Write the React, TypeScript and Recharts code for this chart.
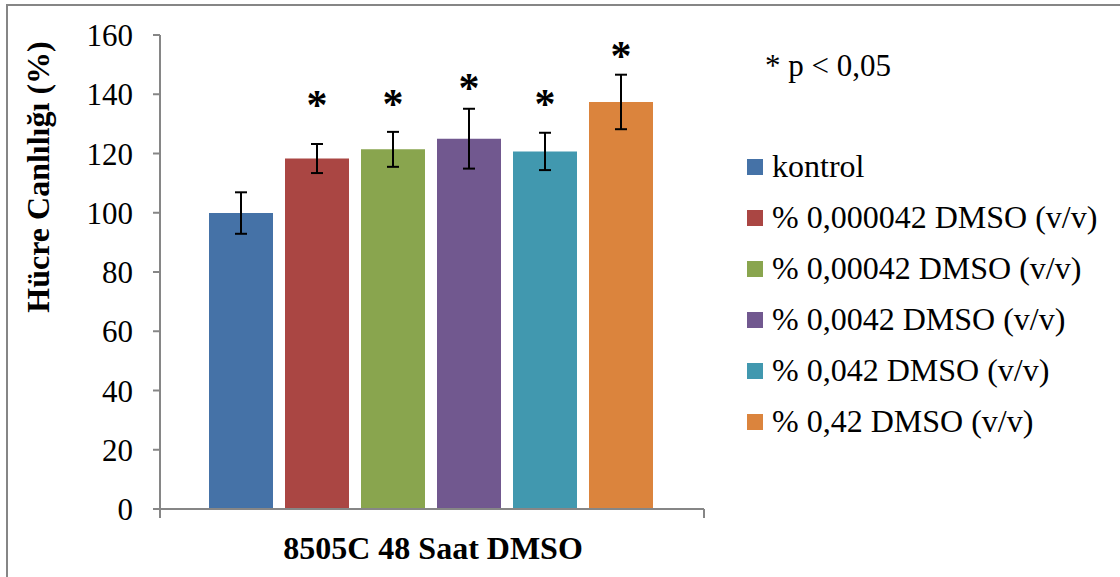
import React from 'react';
import { BarChart, Bar, XAxis, YAxis, ErrorBar } from 'recharts';

// one group, six treatments
const category = '8505C 48 Saat DMSO';
const seriesNames = [
  'kontrol',
  '% 0,000042 DMSO (v/v)',
  '% 0,00042 DMSO (v/v)',
  '% 0,0042 DMSO (v/v)',
  '% 0,042 DMSO (v/v)',
  '% 0,42 DMSO (v/v)',
];
const viability = [99.9, 118.3, 121.4, 125.0, 120.7, 137.4];
const stdErr = [7.0, 4.9, 5.9, 10.1, 6.3, 9.2];
// height (in %) where the significance mark sits; null = not significant
const starLevel: (number | null)[] = [null, 137.6, 138.2, 143.3, 137.9, 154.4];
const colors = ['#4572A7', '#AA4643', '#89A54E', '#71588F', '#4198AF', '#DB843D'];
const yTicks = [0, 20, 40, 60, 80, 100, 120, 140, 160];

const FONT = '"Liberation Serif", "Times New Roman", serif';
const AXIS = '#868686';

const row: Record<string, string | number> = { name: category };
viability.forEach((v, i) => {
  row[`v${i}`] = v;
  row[`e${i}`] = stdErr[i];
});
const data = [row];

const renderStar = (i: number) => (props: any) => {
  const level = starLevel[i];
  const { x, y, width, height, value } = props;
  if (level == null || !value) return null;
  // bar runs linearly from 0 to value, so scale the level along it
  const cy = y + height - (height * level) / value;
  return (
    <text x={x + width / 2} y={cy + 18} textAnchor="middle" fontFamily={FONT} fontWeight="bold" fontSize={42} fill="#000">
      *
    </text>
  );
};

export default function App() {
  return (
    <div style={{ position: 'absolute', left: 0, top: 0, width: 1120, height: 577, overflow: 'hidden', background: '#fff', fontFamily: FONT }}>
      <div style={{ position: 'absolute', left: 6, top: 4, width: 1200, height: 700, borderTop: `2px solid ${AXIS}`, borderLeft: `2px solid ${AXIS}` }} />
      <BarChart
        width={1120}
        height={577}
        data={data}
        margin={{ top: 35, right: 416, bottom: 58, left: 0 }}
        barCategoryGap={49}
        barGap={12}
      >
        <XAxis dataKey="name" tick={false} tickLine={false} height={10} axisLine={{ stroke: AXIS, strokeWidth: 2 }} />
        <YAxis
          width={160}
          domain={[0, 160]}
          ticks={yTicks}
          interval={0}
          tickSize={7}
          tickMargin={20}
          axisLine={{ stroke: AXIS, strokeWidth: 2 }}
          tickLine={{ stroke: AXIS, strokeWidth: 2 }}
          tick={{ fill: '#000', fontSize: 31, fontFamily: FONT }}
        />
        {seriesNames.map((n, i) => (
          <Bar key={n} dataKey={`v${i}`} name={n} fill={colors[i]} isAnimationActive={false} label={renderStar(i)}>
            <ErrorBar dataKey={`e${i}`} width={6} stroke="#000" strokeWidth={2} direction="y" />
          </Bar>
        ))}
      </BarChart>
      {/* end ticks of the category axis */}
      <div style={{ position: 'absolute', left: 159, top: 509, width: 2, height: 9, background: AXIS }} />
      <div style={{ position: 'absolute', left: 703, top: 509, width: 2, height: 9, background: AXIS }} />
      <svg width={1120} height={577} style={{ position: 'absolute', left: 0, top: 0, pointerEvents: 'none' }}>
        <text x={433} y={559} textAnchor="middle" fontFamily={FONT} fontWeight="bold" fontSize={32} fill="#000">
          {category}
        </text>
        <text transform="translate(49,177) rotate(-90)" textAnchor="middle" fontFamily={FONT} fontWeight="bold" fontSize={32} fill="#000">
          Hücre Canlılığı (%)
        </text>
        <text x={765} y={76} fontFamily={FONT} fontSize={31} fill="#000">
          * p &lt; 0,05
        </text>
      </svg>
      <div style={{ position: 'absolute', left: 747, top: 141 }}>
        {seriesNames.map((n, i) => (
          <div key={n} style={{ display: 'flex', alignItems: 'center', height: 51 }}>
            <span style={{ width: 16, height: 16, background: colors[i], marginRight: 9 }} />
            <span style={{ fontSize: 32, color: '#000', lineHeight: '51px', whiteSpace: 'nowrap' }}>{n}</span>
          </div>
        ))}
      </div>
    </div>
  );
}
